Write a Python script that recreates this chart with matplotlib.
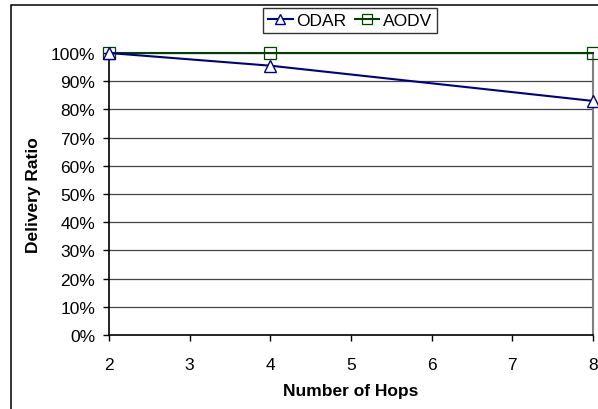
import matplotlib
matplotlib.use("Agg")
import matplotlib.pyplot as plt
from matplotlib.patches import Rectangle
from matplotlib.ticker import FuncFormatter

hops = [2, 4, 8]
odar = [100, 95.5, 83]
aodv = [100, 100, 100]
yticks = list(range(0, 101, 10))
xticks = [2, 3, 4, 5, 6, 7, 8]

plt.rcParams['font.family'] = ['Liberation Sans', 'DejaVu Sans']
fs = 12.5

fig = plt.figure(figsize=(5.98, 4.10), dpi=100)
# outer chart frame
fig.add_artist(Rectangle((11 / 598, -0.05), 1.2, 1 - 6 / 410 + 0.05,
                         transform=fig.transFigure, fill=False,
                         edgecolor='black', linewidth=1.1))

ax = fig.add_axes([109 / 598, 1 - 336 / 410, (593 - 109) / 598, (336 - 54) / 410])
ax.set_xlim(2, 8)
ax.set_ylim(0, 100)

for y in yticks[1:]:
    ax.axhline(y, color='#444444', linewidth=0.9, zorder=1)

ax.plot(hops, aodv, color='#004000', linewidth=1.5, marker='s', markersize=8.5,
        markerfacecolor='none', markeredgecolor='#004000', markeredgewidth=0.9,
        label='AODV', zorder=3, clip_on=False)
ax.plot(hops, odar, color='#000080', linewidth=1.5, marker='^', markersize=9,
        markerfacecolor='white', markeredgecolor='#000080', markeredgewidth=1.0,
        label='ODAR', zorder=4, clip_on=False)

ax.spines['top'].set_visible(False)
ax.spines['right'].set_color('#808080')
ax.spines['right'].set_linewidth(1.5)
ax.spines['left'].set_linewidth(1.2)
ax.spines['bottom'].set_linewidth(1.2)

ax.set_xticks(xticks)
ax.set_yticks(yticks)
ax.yaxis.set_major_formatter(FuncFormatter(lambda v, p: f"{int(v)}%"))
ax.tick_params(direction='out', length=4, width=1, labelsize=fs, pad=6)
ax.tick_params(axis='x', pad=12)

ax.set_xlabel('Number of Hops', fontsize=fs, fontweight='bold', labelpad=8)
ax.set_ylabel('Delivery Ratio', fontsize=fs, fontweight='bold', labelpad=7)

handles, labels = ax.get_legend_handles_labels()
leg = fig.legend(handles[::-1], labels[::-1], loc='center', ncol=2,
                 bbox_to_anchor=(350 / 598, 1 - 21.5 / 410), fontsize=fs,
                 frameon=True, fancybox=False, edgecolor='black',
                 handlelength=1.4, handletextpad=0.2, columnspacing=0.5,
                 borderpad=0.3, borderaxespad=0, markerscale=0.8)
leg.get_frame().set_linewidth(1.0)

fig.savefig('out.png', dpi=100)
